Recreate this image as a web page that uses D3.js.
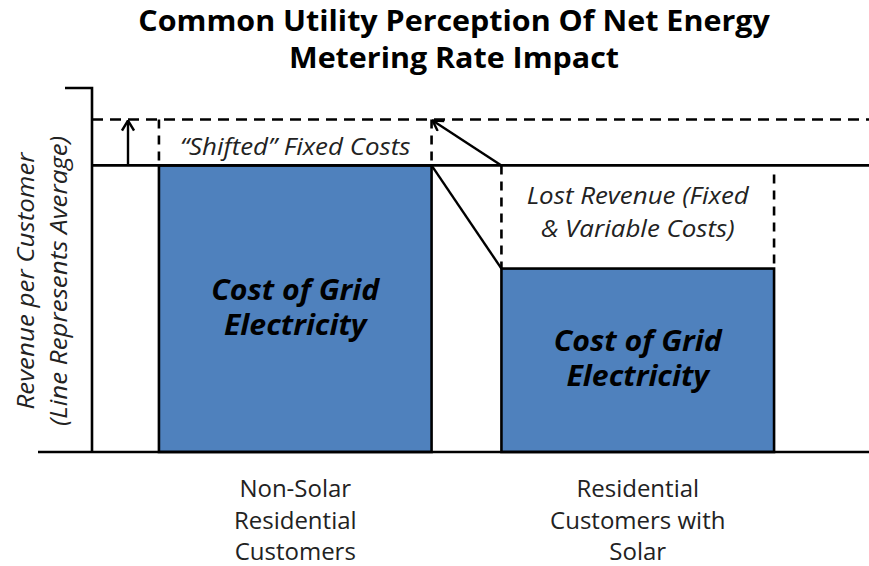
<!DOCTYPE html>
<html><head><meta charset="utf-8">
<script src="https://cdn.jsdelivr.net/npm/d3@7"></script>
<style>html,body{margin:0;padding:0;background:#fff;}</style>
</head><body>
<svg id="chart" width="869" height="566"></svg>
<script>
// ---- data ----
const titleLines = ["Common Utility Perception Of Net Energy", "Metering Rate Impact"];
const yLabelLines = ["Revenue per Customer", "(Line Represents Average)"];
const categories = ["Non-Solar Residential Customers", "Residential Customers with Solar"];
const categoryLabelLines = [["Non-Solar", "Residential", "Customers"], ["Residential", "Customers with", "Solar"]];
const gridCost = [100, 64];           // cost of grid electricity per customer
const averageRevenue = 100;           // original average (solid line)
const shiftedAverage = 116;           // new average after shifted fixed costs (dashed line)
const yMax = 127;
const barLabelLines = ["Cost of Grid", "Electricity"];
const shiftedLabel = "\u201CShifted\u201D Fixed Costs";
const lostLabelLines = ["Lost Revenue (Fixed", "& Variable Costs)"];

// ---- layout ----
const svg = d3.select("#chart");
const font = "'Open Sans', sans-serif";
const y = d3.scaleLinear().domain([0, yMax]).range([452, 88]);
const x = d3.scaleBand().domain(categories).range([124, 809]).paddingInner(0.204).paddingOuter(0.102);
const axisX = 92, rightX = 869;
const blue = "#4f81bd";
const sw = 2.6;

// markers
const defs = svg.append("defs");
defs.append("marker").attr("id", "arr").attr("viewBox", "0 0 14 14").attr("refX", 13).attr("refY", 7)
  .attr("markerWidth", 14).attr("markerHeight", 14).attr("markerUnits", "userSpaceOnUse").attr("orient", "auto")
  .append("path").attr("d", "M3,1 L13,7 L3,13").attr("fill", "none").attr("stroke", "#000").attr("stroke-width", 2.4);

// title
svg.append("g").selectAll("text").data(titleLines).join("text")
  .attr("transform", (d, i) => `translate(454,${31 + i * 37}) scale(1.05,1)`)
  .attr("text-anchor", "middle").attr("font-family", font).attr("font-weight", 700)
  .attr("font-size", 29).attr("fill", "#000").text(d => d);

// bars
svg.append("g").selectAll("rect").data(gridCost).join("rect")
  .attr("x", (d, i) => x(categories[i])).attr("width", x.bandwidth())
  .attr("y", d => y(d)).attr("height", d => y(0) - y(d))
  .attr("fill", blue).attr("stroke", "#000").attr("stroke-width", sw);

// bar labels
gridCost.forEach((v, i) => {
  const cx = x(categories[i]) + x.bandwidth() / 2;
  const cy = (y(v) + y(0)) / 2;
  svg.append("g").selectAll("text").data(barLabelLines).join("text")
    .attr("transform", (d, j) => `translate(${cx},${cy - 9 + j * 35}) scale(1.08,1)`)
    .attr("text-anchor", "middle").attr("font-family", font).attr("font-weight", 700)
    .attr("font-style", "italic").attr("font-size", 28).attr("fill", "#000").text(d => d);
});

// axis
svg.append("path").attr("d", `M65,${y(yMax)} H${axisX} V${y(0)}`).attr("fill", "none").attr("stroke", "#000").attr("stroke-width", sw);
svg.append("line").attr("x1", 38).attr("x2", rightX).attr("y1", y(0)).attr("y2", y(0)).attr("stroke", "#000").attr("stroke-width", sw);

// average line (solid) and shifted average (dashed)
svg.append("line").attr("x1", axisX).attr("x2", rightX).attr("y1", y(averageRevenue)).attr("y2", y(averageRevenue))
  .attr("stroke", "#000").attr("stroke-width", sw);
svg.append("line").attr("x1", axisX).attr("x2", rightX).attr("y1", y(shiftedAverage)).attr("y2", y(shiftedAverage))
  .attr("stroke", "#000").attr("stroke-width", sw).attr("stroke-dasharray", "11,7");

// shift arrow
svg.append("line").attr("x1", 128).attr("x2", 128).attr("y1", y(averageRevenue)).attr("y2", y(shiftedAverage) + 1)
  .attr("stroke", "#000").attr("stroke-width", 2.4).attr("marker-end", "url(#arr)");

const b1L = x(categories[0]), b1R = b1L + x.bandwidth();
const b2L = x(categories[1]), b2R = b2L + x.bandwidth();
const dash = "9,7";
// dashed verticals above bar 1
[b1L, b1R].forEach(xx => svg.append("line").attr("x1", xx).attr("x2", xx)
  .attr("y1", y(shiftedAverage)).attr("y2", y(averageRevenue)).attr("stroke", "#000").attr("stroke-width", sw).attr("stroke-dasharray", dash));
// dashed verticals above bar 2
svg.append("line").attr("x1", b2L).attr("x2", b2L).attr("y1", y(averageRevenue)).attr("y2", y(gridCost[1]))
  .attr("stroke", "#000").attr("stroke-width", sw).attr("stroke-dasharray", dash);
svg.append("line").attr("x1", b2R).attr("x2", b2R).attr("y1", y(averageRevenue) + 9).attr("y2", y(gridCost[1]))
  .attr("stroke", "#000").attr("stroke-width", sw).attr("stroke-dasharray", dash);

// diagonal connectors
svg.append("line").attr("x1", b2L).attr("y1", y(averageRevenue)).attr("x2", b1R + 1).attr("y2", y(shiftedAverage) + 1)
  .attr("stroke", "#000").attr("stroke-width", 2.4).attr("marker-end", "url(#arr)");
svg.append("line").attr("x1", b1R).attr("y1", y(averageRevenue)).attr("x2", b2L).attr("y2", y(gridCost[1]))
  .attr("stroke", "#000").attr("stroke-width", 2.4);

// annotation texts
svg.append("text").attr("transform", `translate(${(b1L + b1R) / 2},155) scale(1.08,1)`).attr("text-anchor", "middle")
  .attr("font-family", font).attr("font-style", "italic").attr("font-size", 24).attr("fill", "#222").text(shiftedLabel);
svg.append("g").selectAll("text").data(lostLabelLines).join("text")
  .attr("transform", (d, i) => `translate(${(b2L + b2R) / 2},${204 + i * 33}) scale(1.08,1)`).attr("text-anchor", "middle")
  .attr("font-family", font).attr("font-style", "italic").attr("font-size", 24).attr("fill", "#222").text(d => d);

// category labels
categories.forEach((c, i) => {
  svg.append("g").selectAll("text").data(categoryLabelLines[i]).join("text")
    .attr("x", x(c) + x.bandwidth() / 2).attr("y", (d, j) => 497 + j * 31.5).attr("text-anchor", "middle")
    .attr("font-family", font).attr("font-size", 24).attr("fill", "#222").text(d => d);
});

// y-axis label
svg.append("g").selectAll("text").data(yLabelLines).join("text")
  .attr("transform", (d, i) => `translate(${34 + i * 33},${281}) rotate(-90) scale(1.08,1)`)
  .attr("text-anchor", "middle").attr("font-family", font).attr("font-style", "italic")
  .attr("font-size", 24).attr("fill", "#222").text(d => d);
</script>
</body></html>
